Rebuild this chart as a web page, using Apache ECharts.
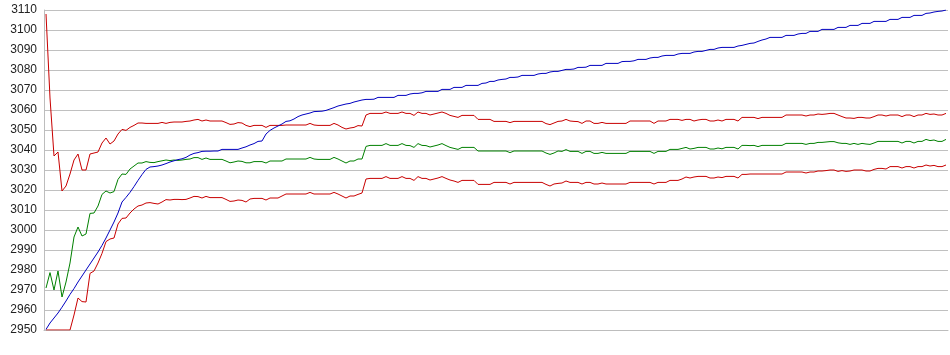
<!DOCTYPE html>
<html>
<head>
<meta charset="utf-8">
<script src="https://cdn.jsdelivr.net/npm/echarts@6/dist/echarts.min.js"></script>
<style>
html,body{margin:0;padding:0;background:#fff;}
#chart{width:950px;height:355px;}
</style>
</head>
<body>
<div id="chart"></div>
<script>
// Y axis ticks
const yMin = 2950, yMax = 3110, yStep = 10;

// Upper red band
const upperRed = [
3108,3066,3037,3039,3019.5,3022,3028,3035,3038,3030,
3030,3038,3038.5,3039,3043.5,3046,3043,3044.5,3048,3050.3,
3049.8,3051.3,3052.3,3053.5,3053.5,3053.3,3053.3,3053.3,3053.3,3053.8,
3053.3,3053.8,3054,3054,3054,3054.3,3054.5,3055,3055.3,3054.5,
3055,3054.5,3054.5,3054.5,3054.5,3053.7,3052.8,3053,3053.7,3053.5,
3052.3,3051.7,3052.3,3052.3,3052.3,3051.3,3052.3,3052.3,3052.3,3052.3,
3052.5,3052.5,3052.5,3052.5,3052.5,3052.5,3053.3,3052.5,3052.3,3052.3,
3052.3,3052.3,3053.3,3052.5,3051.3,3050.5,3051,3051.3,3052.2,3052,
3057.5,3058.3,3058.3,3058.3,3058.3,3059,3058.3,3058.3,3058.3,3059,
3058.3,3058.3,3057.3,3059,3058.3,3058.3,3057.5,3058,3058.5,3059,
3058.3,3057.3,3056.8,3056.3,3057.3,3057.3,3057.3,3057.3,3055.3,3055.3,
3055.3,3055.3,3054.3,3054.3,3054.3,3054.3,3053.7,3054.3,3054.3,3054.3,
3054.3,3054.3,3054.3,3054.3,3054.3,3053.2,3052.7,3053.5,3054.3,3054.5,
3055.3,3054.5,3054.3,3054.2,3053.3,3054.5,3054.5,3053.3,3053.3,3053.8,
3053.3,3053.3,3053.3,3053.3,3053.3,3053.3,3054.5,3054.5,3054.5,3054.5,
3054.5,3054.5,3053.3,3054.5,3054.5,3054.5,3055.3,3055.3,3055.3,3054.8,
3055.3,3055.3,3054.5,3055,3055.3,3055.3,3054.5,3054.5,3055,3054.5,
3055.3,3055.3,3055.3,3054.5,3056.3,3056.3,3056.3,3056.3,3055.7,3056.3,
3056.3,3056.3,3056.3,3056.3,3056.3,3057.5,3057.5,3057.5,3057.5,3057.5,
3057,3057.5,3057.5,3058,3057.8,3058,3058.3,3058.3,3057.5,3056.7,
3056,3056,3055.8,3056.3,3056.3,3056,3056,3056.7,3057.5,3057.5,
3057,3057.5,3057.5,3057.5,3056.7,3057.5,3057.5,3056.7,3057.5,3057.5,
3058.3,3057.8,3058,3057.5,3057.5,3058.3
];

// Middle green line
const middleGreen = [
2971,2978.7,2970,2979.5,2966.5,2974,2983.5,2996.5,3001.5,2997,
2998,3008.3,3008.5,3012,3017.8,3019.5,3018.5,3019.2,3025.3,3028,
3027.8,3030.5,3032,3033.5,3033.5,3034.2,3033.8,3033.7,3034.2,3034.6,
3035,3034.7,3035,3034.8,3035,3035.3,3035.5,3036.2,3036.2,3035.3,
3036,3035.3,3035.3,3035.3,3035.3,3034.5,3033.6,3034,3034.5,3034.3,
3033.6,3033.6,3034.2,3034.2,3034.2,3033.5,3034.5,3034.5,3034.5,3034.5,
3035.5,3035.5,3035.5,3035.5,3035.5,3035.5,3036.3,3035.5,3035.3,3035.3,
3035.3,3035.3,3036.3,3035.5,3034.5,3033.5,3034.5,3034.5,3035.5,3035.5,
3041.8,3042.3,3042.3,3042.3,3042.3,3043.2,3042.3,3042.3,3042.3,3043.2,
3042.3,3042.2,3041.3,3043.2,3042.3,3042.2,3041.5,3042,3042.5,3043.2,
3042.2,3041.3,3040.8,3040.3,3041.3,3041.3,3041.3,3041.3,3039.5,3039.5,
3039.5,3039.5,3039.5,3039.5,3039.5,3039.5,3038.7,3039.5,3039.5,3039.5,
3039.5,3039.5,3039.5,3039.5,3039.5,3038.5,3037.8,3038.5,3039.5,3039.3,
3040.2,3039.3,3039.3,3039.3,3038.3,3039.3,3039.3,3038.3,3038.3,3038.8,
3038.3,3038.3,3038.3,3038.3,3038.3,3038.3,3039.3,3039.3,3039.3,3039.3,
3039.3,3039.3,3038.3,3039.3,3039.3,3039.3,3040.3,3040.3,3040.3,3040.8,
3041.3,3040.5,3040.8,3041.3,3041.3,3041.3,3040.5,3040.5,3041,3040.6,
3041.3,3041.3,3041.3,3040.5,3042.3,3042.3,3042.2,3042.3,3041.7,3042.3,
3042.3,3042.3,3042.3,3042.3,3042.3,3043.3,3043.3,3043.3,3043.3,3043.3,
3042.8,3043.3,3043.3,3043.8,3043.8,3044,3044.2,3044.2,3043.6,3043.3,
3043.3,3042.8,3043.3,3042.8,3043.3,3043,3042.8,3043.5,3044.3,3044.3,
3044.3,3044.3,3044.3,3044.3,3043.5,3044.3,3044.3,3043.5,3044.3,3044.3,
3045.3,3044.7,3045,3044.3,3044.3,3045.3
];

// Lower red band
const lowerRed = [
2950,2950,2950,2950,2950,2950,2950,2957.5,2966,2964.2,
2964,2978.3,2979.5,2983.5,2988.3,2994.2,2995.5,2996,3003,3005.8,
3006,3008.5,3010.5,3012,3012.5,3013.5,3013.7,3013.3,3013,3014,
3015.2,3015,3015.3,3015.3,3015.2,3015.3,3016,3016.8,3016.7,3016,
3016.8,3016.2,3016.2,3016.2,3016.2,3015.3,3014.3,3014.5,3015,3014.8,
3014,3015.5,3015.8,3015.8,3015.8,3015,3016,3016,3016,3017,
3018,3018,3018,3018,3018,3018,3018.8,3018,3018,3018,
3018,3018,3018.8,3018,3017,3016,3017,3017,3017.8,3018.5,
3025.5,3025.8,3025.8,3025.8,3025.8,3026.7,3025.8,3025.8,3025.8,3026.7,
3025.8,3025.8,3024.8,3026.7,3025.8,3025.8,3025,3025.5,3026,3026.7,
3025.8,3025,3024.5,3023.8,3024.8,3024.8,3024.8,3024.8,3022.8,3022.8,
3022.8,3022.8,3023.8,3023.8,3023.8,3023.8,3023,3023.8,3023.8,3023.8,
3023.8,3023.8,3023.8,3023.8,3023.8,3022.8,3022,3023,3023.3,3023.5,
3024.5,3023.8,3023.8,3023.8,3023,3023.8,3023.8,3023,3023,3023.5,
3023,3023,3023,3023,3023,3023,3023.8,3023.8,3023.8,3023.8,
3023.8,3023.8,3023,3023.8,3023.8,3023.8,3024.8,3024.8,3024.8,3025.5,
3026.5,3026,3026.5,3026.8,3026.8,3026.8,3026,3026,3026.5,3026.2,
3026.8,3026.8,3026.8,3026,3027.8,3027.8,3028,3028,3028,3028,
3028,3028,3028,3028,3028,3029,3029,3029,3029,3029,
3028.5,3029,3029,3029.5,3029.5,3029.7,3030,3030,3029.3,3029.7,
3029.3,3029.5,3030,3030,3030,3029.5,3029.5,3030.3,3030.8,3030.8,
3030.5,3031.7,3031.7,3031.7,3031,3031.7,3031.7,3031,3031.7,3031.7,
3032.5,3032,3032.3,3031.7,3031.7,3032.5
];

// Rising blue line
const blueLine = [
2950.3,2953.5,2956,2958.5,2961.4,2964.5,2967.8,2970.7,2974,2977,
2980,2983,2986,2989,2992.3,2996,3000,3004,3008.5,3014,
3016.3,3018.8,3021.7,3024.8,3027.7,3030.3,3031.5,3031.7,3032,3032.5,
3033.2,3034,3034.6,3035.2,3035.6,3036.3,3037.5,3038.3,3038.7,3039.3,
3039.4,3039.4,3039.5,3039.5,3040.3,3040.3,3040.3,3040.3,3040.3,3041,
3041.6,3042.5,3043.2,3044.3,3044.5,3048,3049.8,3051,3052,3053,
3054.3,3054.6,3055.5,3056.7,3057.5,3058,3058.5,3059.2,3059.3,3059.4,
3059.8,3060.5,3061.2,3062,3062.5,3063,3063.3,3064,3064.5,3065,
3065.3,3065.3,3065.4,3066.3,3066.3,3066.3,3066.3,3066.3,3067.3,3067.3,
3067.3,3068,3068.3,3068.3,3068.6,3069.3,3069.3,3069.3,3069.3,3070.3,
3070.3,3070.3,3071.3,3071.3,3071.3,3072.3,3072.3,3072.3,3072.3,3073.3,
3073.5,3074.3,3074.3,3075,3075.3,3075.5,3076.3,3076.3,3076.5,3077.3,
3077.3,3077.3,3077.3,3078,3078.3,3078.3,3079,3079.3,3079.3,3079.8,
3080.3,3080.3,3080.5,3081.3,3081.3,3081.4,3082.3,3082.3,3082.3,3082.3,
3083.3,3083.3,3083.3,3083.3,3084.2,3084.3,3084.3,3084.6,3085.3,3085.3,
3085.3,3086,3086.3,3086.3,3087,3087.3,3087.3,3087.3,3088,3088.3,
3088.3,3088.3,3089,3089.3,3089.3,3089.8,3090.3,3090.3,3091,3091.3,
3091.3,3091.3,3091.3,3092,3092.3,3092.8,3093.3,3093.5,3094.3,3095,
3095.5,3096.3,3096.3,3096.3,3096.3,3097.3,3097.3,3097.3,3098,3098.3,
3098.3,3099.3,3099.3,3099.3,3100.3,3100.3,3100.3,3100.3,3101.3,3101.3,
3101.3,3102.3,3102.3,3102.3,3103.3,3103.3,3103.3,3104.3,3104.3,3104.3,
3104.3,3105.3,3105.3,3105.3,3106.3,3106.3,3106.3,3107.3,3107.3,3107.3,
3108.3,3108.5,3109,3109.3,3109.5,3110
];

// Categories (sample index)
const categories = blueLine.map((_, i) => String(i + 1));

const chart = echarts.init(document.getElementById('chart'), null, {renderer: 'canvas'});
const lineS = (name, data, color) => ({
  name, type: 'line', data, showSymbol: false, symbol: 'none',
  lineStyle: {color, width: 1}, itemStyle: {color},
  emphasis: {disabled: true}
});
chart.setOption({
  animation: false,
  backgroundColor: '#ffffff',
  grid: {left: 44, right: 2, top: 10, bottom: 25, containLabel: false},
  xAxis: {
    type: 'category', data: categories, boundaryGap: true,
    axisLine: {show: true, lineStyle: {color: '#bdbdbd', width: 1}},
    axisTick: {show: false}, axisLabel: {show: false}, splitLine: {show: false}
  },
  yAxis: {
    type: 'value', min: yMin, max: yMax, interval: yStep,
    axisLine: {show: true, lineStyle: {color: '#bdbdbd', width: 1}},
    axisTick: {show: false},
    axisLabel: {
      color: '#222', fontSize: 12, fontFamily: 'Liberation Sans, Arial, sans-serif', margin: 7,
      formatter: v => String(v)
    },
    splitLine: {show: true, lineStyle: {color: '#c0c0c0', width: 1}}
  },
  series: [
    lineS('Upper', upperRed, '#c80000'),
    lineS('Lower', lowerRed, '#c80000'),
    lineS('Middle', middleGreen, '#008000'),
    lineS('Trend', blueLine, '#0000c0')
  ]
});
</script>
</body>
</html>
